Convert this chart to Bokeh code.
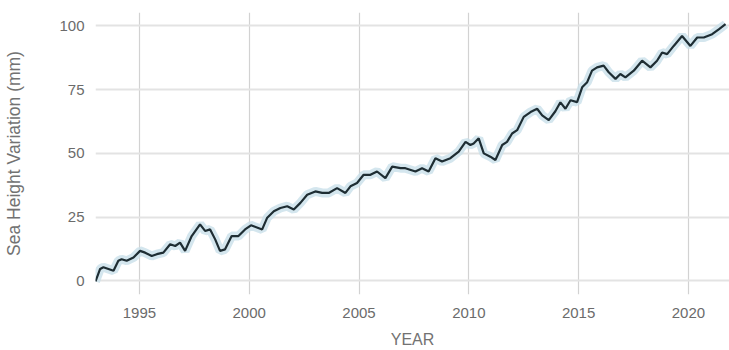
from bokeh.plotting import figure
from bokeh.models import Range1d, FixedTicker, ColumnDataSource
from bokeh.embed import file_html
from bokeh.resources import INLINE

# Data (year, sea height variation in mm)
years = [1993.0, 1993.21, 1993.36, 1993.59, 1993.82, 1994.04, 1994.19, 1994.42, 1994.73,
         1995.03, 1995.26, 1995.56, 1995.79, 1996.09, 1996.40, 1996.63, 1996.85, 1997.08,
         1997.38, 1997.76, 1997.99, 1998.22, 1998.45, 1998.67, 1998.90, 1999.20, 1999.51,
         1999.81, 2000.08, 2000.59, 2000.82, 2001.12, 2001.42, 2001.73, 2002.03, 2002.33,
         2002.64, 2003.01, 2003.32, 2003.62, 2004.00, 2004.38, 2004.61, 2004.91, 2005.21,
         2005.52, 2005.82, 2006.20, 2006.51, 2006.89, 2007.11, 2007.57, 2007.87, 2008.17,
         2008.48, 2008.78, 2009.16, 2009.54, 2009.85, 2010.07, 2010.22, 2010.45, 2010.68,
         2010.98, 2011.21, 2011.52, 2011.74, 2011.97, 2012.20, 2012.50, 2012.81, 2013.11,
         2013.34, 2013.64, 2013.94, 2014.17, 2014.40, 2014.63, 2014.93, 2015.16, 2015.39,
         2015.61, 2015.84, 2016.14, 2016.37, 2016.68, 2016.90, 2017.13, 2017.51, 2017.89,
         2018.27, 2018.57, 2018.80, 2019.03, 2019.33, 2019.71, 2020.09, 2020.40, 2020.70,
         2021.08, 2021.38, 2021.69]
sea_height = [-0.2, 4.7, 5.4, 4.7, 4.0, 7.9, 8.5, 7.9, 9.2,
              11.8, 11.1, 9.8, 10.5, 11.1, 14.4, 13.7, 15.0, 11.8,
              17.6, 22.2, 19.6, 20.2, 16.3, 11.8, 12.4, 17.6, 17.6,
              20.2, 21.8, 20.2, 24.8, 27.3, 28.6, 29.3, 28.0, 30.6,
              33.8, 35.1, 34.5, 34.5, 36.4, 34.5, 37.1, 38.4, 41.6,
              41.6, 42.9, 40.3, 44.8, 44.2, 44.2, 42.9, 44.2, 42.9,
              48.1, 46.8, 48.1, 50.7, 54.5, 53.3, 53.9, 55.9, 50.0,
              48.7, 47.4, 53.3, 54.5, 57.8, 59.1, 64.3, 66.2, 67.5,
              64.9, 63.0, 66.5, 70.0, 67.5, 70.8, 70.1, 75.9, 77.9,
              82.4, 83.7, 84.4, 81.8, 79.2, 81.1, 79.8, 82.4, 86.3,
              83.7, 86.3, 89.5, 88.9, 92.1, 96.0, 92.1, 95.4, 95.4,
              96.7, 98.6, 100.6]
x_ticks = [1995, 2000, 2005, 2010, 2015, 2020]
y_ticks = [0, 25, 50, 75, 100]

src = ColumnDataSource(data=dict(year=years, h=sea_height))

p = figure(width=729, height=350, output_backend="svg", toolbar_location=None,
           x_range=Range1d(1993.0, 2021.87), y_range=Range1d(-5.3, 105.2),
           min_border_left=95, min_border_right=0, min_border_top=12, min_border_bottom=54)
p.outline_line_color = None
p.background_fill_color = "white"
p.border_fill_color = "white"

p.line("year", "h", source=src, line_color="#c9e0ea", line_width=9, line_alpha=0.8)
p.line("year", "h", source=src, line_color="#1e2d33", line_width=2.2)

font = "Liberation Sans"
for ax in (p.xaxis[0], p.yaxis[0]):
    ax.axis_line_color = None
    ax.major_tick_line_color = None
    ax.minor_tick_line_color = None
    ax.major_label_text_font = font
    ax.major_label_text_font_size = "15px"
    ax.major_label_text_color = "#6b6b6b"
    ax.axis_label_text_font = font
    ax.axis_label_text_font_style = "normal"
    ax.axis_label_text_color = "#727272"

p.xaxis.axis_label_text_font_size = "16px"
p.yaxis.axis_label_text_font_size = "17.5px"
p.xaxis.ticker = FixedTicker(ticks=x_ticks)
p.yaxis.ticker = FixedTicker(ticks=y_ticks)
p.xaxis.axis_label = "YEAR"
p.yaxis.axis_label = "Sea Height Variation (mm)"
p.xaxis.major_label_standoff = 7
p.xaxis.axis_label_standoff = 10
p.yaxis.major_label_standoff = 5
p.yaxis.axis_label_standoff = 32

p.xgrid.grid_line_color = "#d2d2d2"
p.xgrid.grid_line_width = 1.2
p.ygrid.grid_line_color = "#e3e3e3"
p.ygrid.grid_line_width = 2

open("out.html", "w").write(file_html(p, INLINE))
